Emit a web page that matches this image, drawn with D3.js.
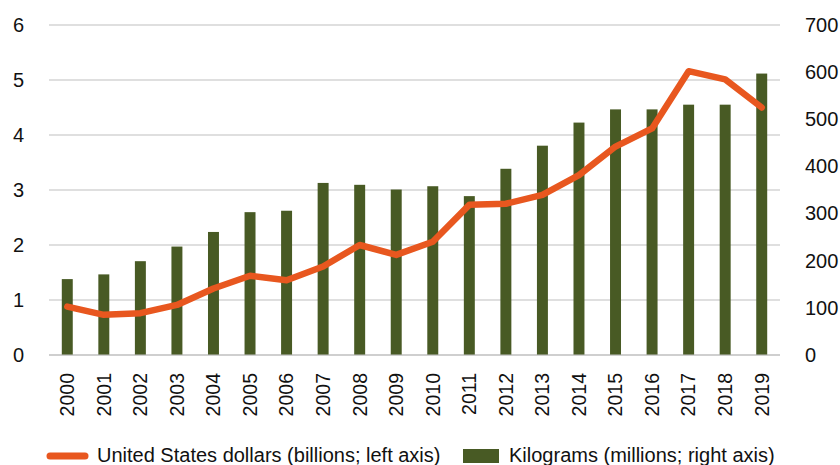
<!DOCTYPE html>
<html>
<head>
<meta charset="utf-8">
<script src="https://cdn.jsdelivr.net/npm/d3@7"></script>
<style>
  html, body { margin: 0; padding: 0; background: #ffffff; }
  svg { display: block; }
</style>
</head>
<body>
<svg id="chart" width="840" height="465"></svg>
<script>
const years = ["2000","2001","2002","2003","2004","2005","2006","2007","2008","2009",
               "2010","2011","2012","2013","2014","2015","2016","2017","2018","2019"];
const dollarsBillions = [0.88, 0.73, 0.76, 0.91, 1.21, 1.44, 1.36, 1.61, 2.00, 1.82,
                         2.06, 2.73, 2.75, 2.91, 3.27, 3.79, 4.12, 5.16, 5.01, 4.50];
const kilogramsMillions = [161, 171, 199, 230, 261, 303, 306, 365, 361, 351,
                           358, 337, 395, 444, 493, 521, 521, 531, 531, 597];
const leftTicks = [0, 1, 2, 3, 4, 5, 6];
const rightTicks = [0, 100, 200, 300, 400, 500, 600, 700];
const legendLabels = ["United States dollars (billions; left axis)", "Kilograms (millions; right axis)"];

const lineColor = "#e8571f";
const barColor = "#485a24";
const gridColor = "#c0c0c0";
const numFont = "'Liberation Sans', Arial, sans-serif";
const narrowFont = "'Liberation Sans Narrow', 'Arial Narrow', sans-serif";

const svg = d3.select("#chart");
const x0 = 49, x1 = 780, yTop = 25, yBot = 355;

const x = d3.scaleBand().domain(years).range([x0, x1]).paddingInner(0.7).paddingOuter(0.35);
const yL = d3.scaleLinear().domain([0, 6]).range([yBot, yTop]);
const yR = d3.scaleLinear().domain([0, 700]).range([yBot, yTop]);

// gridlines
svg.append("g").selectAll("line").data(leftTicks).join("line")
  .attr("x1", x0).attr("x2", x1)
  .attr("y1", d => yL(d)).attr("y2", d => yL(d))
  .attr("stroke", gridColor).attr("stroke-width", 1.2);

// left axis
const gL = svg.append("g").attr("transform", "translate(24,0)")
  .call(d3.axisLeft(yL).tickValues(leftTicks).tickSize(0).tickPadding(0).tickFormat(d3.format("d")));
gL.select(".domain").remove();
gL.selectAll("text").attr("font-family", numFont).attr("font-size", 20).attr("fill", "#111");

// right axis
const gR = svg.append("g").attr("transform", "translate(805,0)")
  .call(d3.axisRight(yR).tickValues(rightTicks).tickSize(0).tickPadding(0).tickFormat(d3.format("d")));
gR.select(".domain").remove();
gR.selectAll("text").attr("font-family", numFont).attr("font-size", 20).attr("fill", "#111");

// bars
svg.append("g").selectAll("rect").data(kilogramsMillions).join("rect")
  .attr("x", (d, i) => x(years[i]))
  .attr("width", x.bandwidth())
  .attr("y", d => yR(d))
  .attr("height", d => yBot - yR(d))
  .attr("fill", barColor);

// baseline
svg.append("line").attr("x1", x0).attr("x2", x1).attr("y1", yBot).attr("y2", yBot)
  .attr("stroke", gridColor).attr("stroke-width", 1.2);

// line
const line = d3.line()
  .x((d, i) => x(years[i]) + x.bandwidth() / 2)
  .y(d => yL(d));
svg.append("path").datum(dollarsBillions)
  .attr("d", line)
  .attr("fill", "none")
  .attr("stroke", lineColor)
  .attr("stroke-width", 6.5)
  .attr("stroke-linejoin", "round")
  .attr("stroke-linecap", "round");

// x axis labels (rotated)
const gX = svg.append("g").attr("transform", `translate(0,373)`)
  .call(d3.axisBottom(x).tickSize(0).tickPadding(0));
gX.select(".domain").remove();
gX.selectAll("text")
  .attr("font-family", numFont).attr("font-size", 19.5).attr("fill", "#111")
  .attr("transform", "rotate(-90)")
  .attr("text-anchor", "end")
  .attr("x", 0).attr("y", 0).attr("dy", "0.35em");

// legend
const lg = svg.append("g");
lg.append("line").attr("x1", 50).attr("x2", 85).attr("y1", 456).attr("y2", 456)
  .attr("stroke", lineColor).attr("stroke-width", 7).attr("stroke-linecap", "round");
lg.append("text").attr("x", 97).attr("y", 462).text(legendLabels[0])
  .attr("font-family", narrowFont).attr("font-size", 20).attr("fill", "#111");
lg.append("rect").attr("x", 463).attr("y", 449).attr("width", 36).attr("height", 14).attr("fill", barColor);
lg.append("text").attr("x", 509).attr("y", 462).text(legendLabels[1])
  .attr("font-family", narrowFont).attr("font-size", 20).attr("fill", "#111");
</script>
</body>
</html>
